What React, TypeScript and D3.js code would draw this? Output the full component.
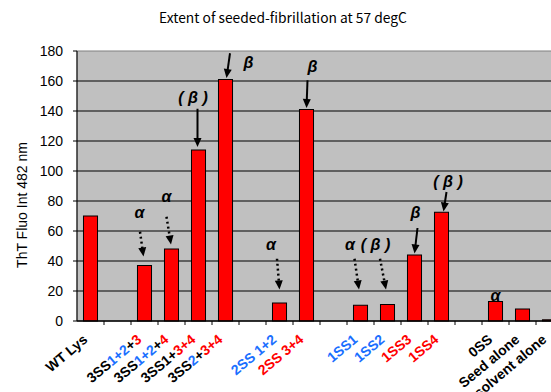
import React from 'react';
import * as d3 from 'd3';

// categories along the x axis (empty strings are the gaps between groups)
const categories = [
  'WT Lys', '', '3SS1+2+3', '3SS1+2+4', '3SS1+3+4', '3SS2+3+4', '',
  '2SS 1+2', '2SS 3+4', '', '1SS1', '1SS2', '1SS3', '1SS4', '',
  '0SS', 'Seed alone', 'solvent alone',
];

// ThT fluorescence per category (null = no bar)
const values: (number | null)[] = [
  70, null, 37, 48, 114, 161, null,
  12, 141, null, 10.5, 11, 44, 72.5, null,
  13, 8, 0.8,
];

const K = '#000000';
const B = '#1a6fff';
const R = '#ff0000';

// coloured pieces of each category label
const labelParts: [string, string][][] = [
  [['WT Lys', K]], [],
  [['3SS', K], ['1+2', B], ['+', K], ['3', R]],
  [['3SS', K], ['1+2', B], ['+', K], ['4', R]],
  [['3SS1', K], ['+', K], ['3+4', R]],
  [['3SS', K], ['2', B], ['+', K], ['3+4', R]],
  [],
  [['2SS 1+2', B]],
  [['2SS 3+4', R]],
  [],
  [['1SS1', B]], [['1SS2', B]], [['1SS3', R]], [['1SS4', R]],
  [],
  [['0SS', K]], [['Seed alone', K]], [['solvent alone', K]],
];

const yTicks = [0, 20, 40, 60, 80, 100, 120, 140, 160, 180];

// annotations: category index, label, label offset/value, arrow tail & tip, arrow style
interface Note {
  cat: number; text: string; tdx: number; tv: number;
  a?: { dx0: number; v0: number; dx1: number; v1: number; dotted: boolean };
}
const notes: Note[] = [
  { cat: 2, text: 'α', tdx: -5, tv: 68.5, a: { dx0: -4.5, v0: 59.5, dx1: -1, v1: 43, dotted: true } },
  { cat: 3, text: 'α', tdx: -5, tv: 79.5, a: { dx0: -5, v0: 69.5, dx1: -0.5, v1: 51, dotted: true } },
  { cat: 4, text: '( β )', tdx: -5.5, tv: 145.5, a: { dx0: -1, v0: 141.5, dx1: -1, v1: 116, dotted: false } },
  { cat: 5, text: 'β', tdx: 23, tv: 168.5, a: { dx0: 4.5, v0: 178.5, dx1: 1, v1: 162, dotted: false } },
  { cat: 7, text: 'α', tdx: -8.5, tv: 47.5, a: { dx0: -2.5, v0: 41.5, dx1: 0, v1: 21, dotted: true } },
  { cat: 8, text: 'β', tdx: 6, tv: 166, a: { dx0: 1, v0: 160.5, dx1: 0, v1: 142, dotted: false } },
  { cat: 10, text: 'α', tdx: -10.5, tv: 47.5, a: { dx0: -6, v0: 41.5, dx1: -1.5, v1: 21, dotted: true } },
  { cat: 11, text: '( β )', tdx: -12, tv: 47.5, a: { dx0: -7.5, v0: 41.5, dx1: -1.5, v1: 21, dotted: true } },
  { cat: 12, text: 'β', tdx: 1, tv: 68.5, a: { dx0: 3, v0: 62, dx1: 0, v1: 45, dotted: false } },
  { cat: 13, text: '( β )', tdx: 6.5, tv: 89.5, a: { dx0: 5, v0: 86, dx1: 2, v1: 73, dotted: false } },
  { cat: 15, text: 'α', tdx: 0, tv: 13.5 },
];

const W = 551;
const H = 392;
const left = 77;
const right = 563;
const top = 51;
const bottom = 321;

export default function App() {
  const x = d3.scaleBand<number>()
    .domain(categories.map((_, i) => i))
    .range([left, right])
    .padding(0);
  const y = d3.scaleLinear().domain([0, 180]).range([bottom, top]);
  const bw = x.bandwidth() * 0.52;
  const cx = (i: number) => (x(i) as number) + x.bandwidth() / 2;

  const arrowHead = (x0: number, y0: number, x1: number, y1: number) => {
    const ang = Math.atan2(y1 - y0, x1 - x0);
    const len = 9;
    const half = 4;
    const bx = x1 - len * Math.cos(ang);
    const by = y1 - len * Math.sin(ang);
    const px = -Math.sin(ang) * half;
    const py = Math.cos(ang) * half;
    return `M${x1},${y1}L${bx + px},${by + py}L${bx - px},${by - py}Z`;
  };

  return (
    <svg width={W} height={H} style={{ position: 'absolute', left: 0, top: 0, background: '#fff' }}>
      <text x={283} y={23} textAnchor="middle" fontSize={13.8}
        fontFamily="'Noto Sans CJK JP', 'Liberation Sans', Arial, sans-serif">
        Extent of seeded-fibrillation at 57 degC
      </text>

      <rect x={left} y={top} width={right - left} height={bottom - top} fill="#c0c0c0" stroke="#808080" />
      {yTicks.filter(t => t > 0 && t < 180).map(t => (
        <line key={t} x1={left} x2={right} y1={y(t)} y2={y(t)} stroke="#000" strokeWidth={1} />
      ))}

      {values.map((v, i) => v == null ? null : (
        <rect key={i} x={cx(i) - bw / 2} y={y(v)} width={bw} height={y(0) - y(v)}
          fill="#ff0000" stroke="#000" strokeWidth={1} />
      ))}

      {/* axes */}
      <line x1={left} x2={left} y1={top} y2={bottom} stroke="#000" />
      <line x1={left} x2={right} y1={bottom} y2={bottom} stroke="#000" strokeWidth={1.5} />
      {yTicks.map(t => (
        <g key={t}>
          <line x1={left - 4} x2={left} y1={y(t)} y2={y(t)} stroke="#000" />
          <text x={63} y={y(t) + 5} textAnchor="end" fontSize={14}
            fontFamily="'Liberation Sans', Arial, sans-serif">{t}</text>
        </g>
      ))}
      {categories.map((_, i) => (
        <line key={i} x1={(x(i) as number) + x.bandwidth()} x2={(x(i) as number) + x.bandwidth()}
          y1={bottom} y2={bottom + 4} stroke="#000" />
      ))}

      <text transform="translate(27,205) rotate(-90)" textAnchor="middle" fontSize={14}
        fontFamily="'Liberation Sans', Arial, sans-serif">ThT Fluo Int 482 nm</text>

      {labelParts.map((parts, i) => parts.length === 0 ? null : (
        <text key={i} transform={`translate(${cx(i) - 2},${341}) rotate(-40)`} textAnchor="end"
          fontSize={14} fontWeight="bold" fontFamily="'Liberation Sans', Arial, sans-serif">
          {parts.map(([t, c], j) => <tspan key={j} fill={c}>{t}</tspan>)}
        </text>
      ))}

      {notes.map((n, k) => {
        const c = cx(n.cat);
        return (
          <g key={k}>
            <text x={c + n.tdx} y={y(n.tv)} textAnchor="middle" fontSize={16} fontWeight="bold"
              fontStyle="italic" fontFamily="'Liberation Sans', Arial, sans-serif">{n.text}</text>
            {n.a && (() => {
              const x0 = c + n.a.dx0, y0 = y(n.a.v0), x1 = c + n.a.dx1, y1 = y(n.a.v1);
              const ang = Math.atan2(y1 - y0, x1 - x0);
              const ex = x1 - 7 * Math.cos(ang), ey = y1 - 7 * Math.sin(ang);
              return (
                <g>
                  <line x1={x0} y1={y0} x2={ex} y2={ey} stroke="#000"
                    strokeWidth={n.a.dotted ? 2.5 : 2}
                    strokeDasharray={n.a.dotted ? '2,3' : undefined} />
                  <path d={arrowHead(x0, y0, x1, y1)} fill="#000" />
                </g>
              );
            })()}
          </g>
        );
      })}
    </svg>
  );
}
